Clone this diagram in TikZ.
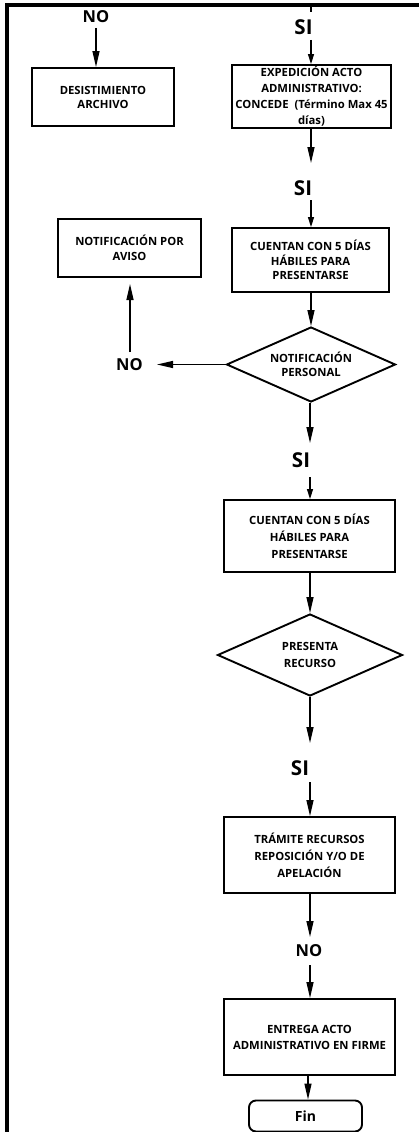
\documentclass[tikz,border=0pt]{standalone}
\usepackage{fontspec}
\setmainfont{Open Sans}
\usetikzlibrary{shapes.geometric,arrows.meta}
\begin{document}
\begin{tikzpicture}[x=1pt,y=-1pt,
  box/.style={draw, line width=1.9pt, align=center, inner sep=0pt,
    font=\fontsize{11.3}{16}\selectfont\bfseries},
  dec/.style={draw, diamond, line width=1.9pt, align=center, inner sep=0pt, aspect=2.2,
    font=\fontsize{11.3}{16}\selectfont\bfseries},
  lblsi/.style={inner sep=0pt, font=\fontsize{20.5}{20}\selectfont\bfseries},
  lblno/.style={inner sep=0pt, font=\fontsize{16.5}{16}\selectfont\bfseries},
  arr/.style={line width=1.3pt, -{Triangle[length=16pt,width=7pt]}},
  arrs/.style={line width=1.3pt, -{Triangle[length=10pt,width=6pt]}},
  frame/.style={line width=3.5pt}
]
\useasboundingbox (0,0) rectangle (419,1132);
% frame
\coordinate (fb) at (7,1134);
\coordinate (ftl) at (7,5);
\coordinate (ftr) at (420,5);
\draw[frame] (fb) -- (ftl) -- (ftr);

% nodes
\node[box, minimum width=142pt, minimum height=58pt, font=\fontsize{11.3}{14}\selectfont\bfseries] (desist) at (103,97) {DESISTIMIENTO\\ARCHIVO};
\node[box, minimum width=159pt, minimum height=63pt] (exped) at (311.5,96.5) {EXPEDICIÓN ACTO\\ADMINISTRATIVO:\\CONCEDE\ \ (Término Max 45\\días)};
\node[box, minimum width=143pt, minimum height=58pt, font=\fontsize{11.3}{15}\selectfont\bfseries] (aviso) at (129.5,248) {NOTIFICACIÓN POR\\AVISO};
\node[box, minimum width=157pt, minimum height=64pt, font=\fontsize{11.3}{14.5}\selectfont\bfseries] (cuen1) at (310.5,260) {CUENTAN CON 5 DÍAS\\HÁBILES PARA\\PRESENTARSE};
\node[dec, minimum width=169pt, minimum height=75pt, font=\fontsize{11.3}{14.5}\selectfont\bfseries] (dnot) at (311,364.5) {NOTIFICACIÓN\\PERSONAL};
\node[box, minimum width=171pt, minimum height=72pt, font=\fontsize{11.3}{17}\selectfont\bfseries] (cuen2) at (309.5,536) {CUENTAN CON 5 DÍAS\\HÁBILES PARA\\PRESENTARSE};
\node[dec, minimum width=185pt, minimum height=82pt, font=\fontsize{11.3}{17}\selectfont\bfseries] (dpres) at (310,655) {PRESENTA\\RECURSO};
\node[box, minimum width=171pt, minimum height=76pt, font=\fontsize{11.3}{17}\selectfont\bfseries] (tram) at (309.5,855) {TRÁMITE RECURSOS\\REPOSICIÓN Y/O DE\\APELACIÓN};
\node[box, minimum width=171pt, minimum height=76pt] (entr) at (309.5,1037) {ENTREGA ACTO\\ADMINISTRATIVO EN FIRME};
\node[draw, line width=1.9pt, rounded corners=7pt, minimum width=113pt, minimum height=31pt, inner sep=0pt,
  font=\fontsize{14}{14}\selectfont\bfseries] (fin) at (305.5,1116) {Fin};

% labels
\node[lblno] (no1) at (96,17) {NO};
\node[lblsi] (si1) at (303.5,27) {SI};
\node[lblsi] (si2) at (303,188) {SI};
\node[lblno] (no2) at (129.5,365) {NO};
\node[lblsi] (si3) at (301,460) {SI};
\node[lblsi] (si4) at (300,768) {SI};
\node[lblno] (no3) at (309,951) {NO};

% coordinates for free ends
\coordinate (n1a) at (96,28);
\coordinate (t0) at (311,5);
\coordinate (t1) at (311,12);
\coordinate (s1a) at (311,40);
\coordinate (e1) at (311,163);
\coordinate (s2a) at (311,200);
\coordinate (nl) at (157,364.5);
\coordinate (nua) at (130,352);
\coordinate (nub) at (130,284);
\coordinate (p1) at (310,443);
\coordinate (s3a) at (310,477);
\coordinate (p2) at (310,743);
\coordinate (s4a) at (310,782);
\coordinate (p3) at (310,937);
\coordinate (n3a) at (310,965);
\coordinate (fa) at (308,1075);

% connectors
\draw[arr] (n1a) -- (n1a |- desist.north);
\draw[line width=1.3pt] (t0) -- (t1);
\draw[arrs] (s1a) -- (s1a |- exped.north);
\draw[arr] (exped.south -| e1) -- (e1);
\draw[arrs] (s2a) -- (s2a |- cuen1.north);
\draw[arr] (cuen1.south -| dnot.north) -- (dnot.north);
\draw[arr] (dnot.west) -- (nl);
\draw[arr] (nua) -- (nub);
\draw[arr] (dnot.south -| p1) -- (p1);
\draw[arrs] (s3a) -- (s3a |- cuen2.north);
\draw[arr] (cuen2.south -| dpres.north) -- (dpres.north);
\draw[arr] (dpres.south -| p2) -- (p2);
\draw[arr] (s4a) -- (s4a |- tram.north);
\draw[arr] (tram.south -| p3) -- (p3);
\draw[arr] (n3a) -- (n3a |- entr.north);
\draw[arr] (entr.south -| fa) -- (fa |- fin.north);
\end{tikzpicture}
\end{document}
